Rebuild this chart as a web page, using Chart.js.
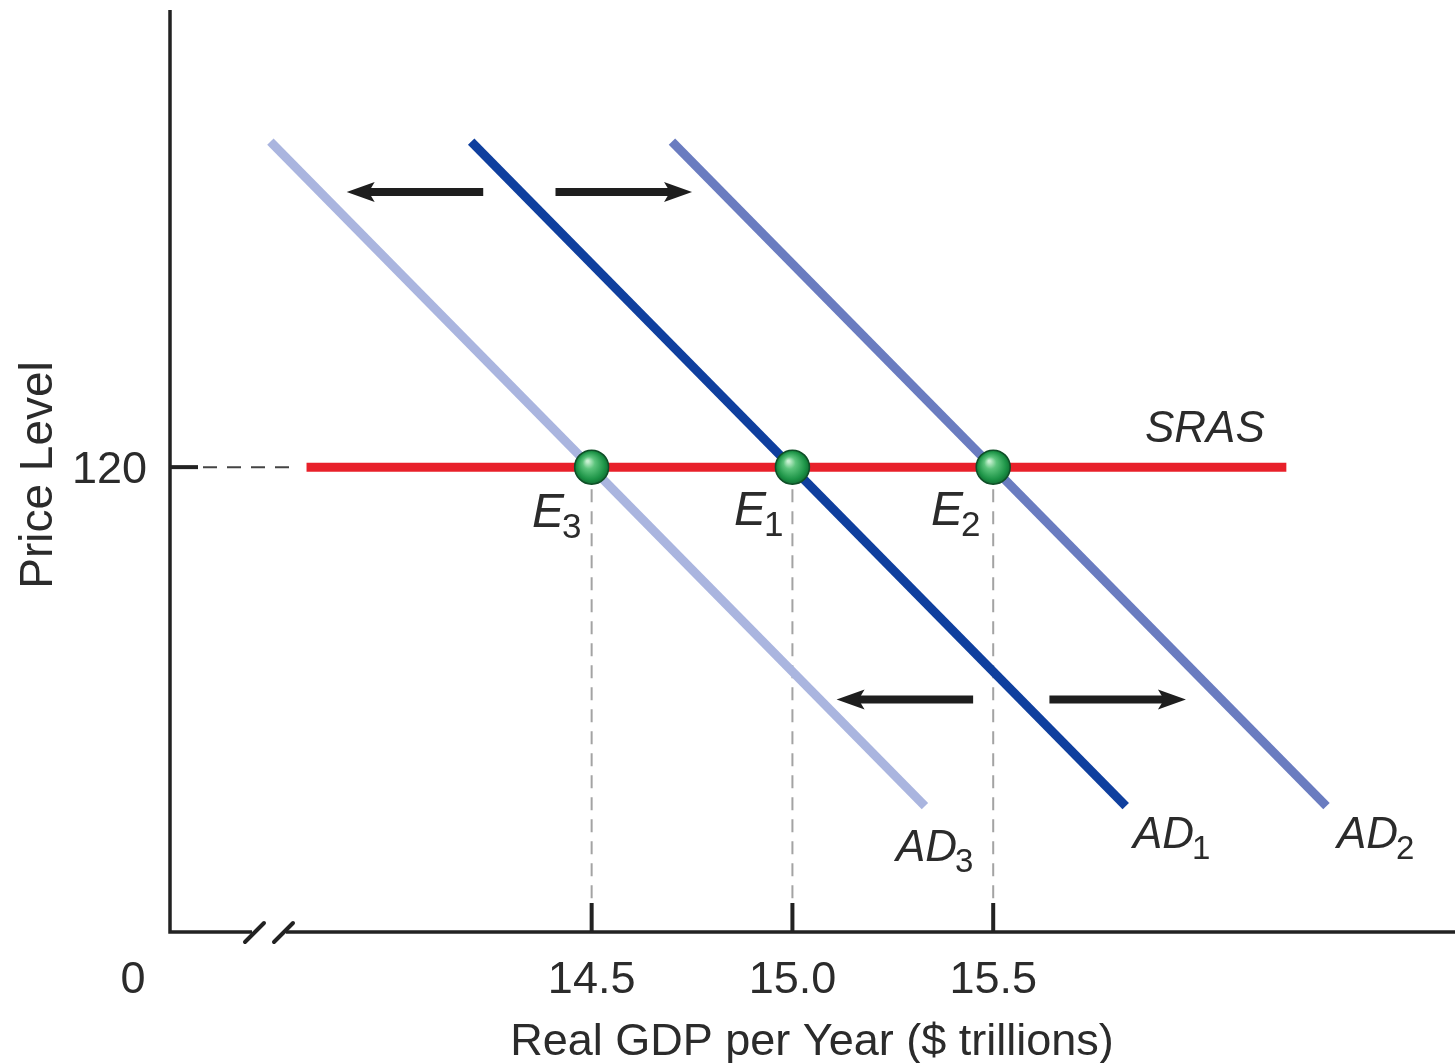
<!DOCTYPE html>
<html>
<head>
<meta charset="utf-8">
<title>Aggregate Demand Shifts</title>
<script src="https://cdn.jsdelivr.net/npm/chart.js@4.4.1/dist/chart.umd.min.js"></script>
<style>
  html, body { margin: 0; padding: 0; background: #ffffff; }
  #wrap { width: 1455px; height: 1063px; position: relative; }
</style>
</head>
<body>
<div id="wrap"><canvas id="chart"></canvas></div>
<script>
// Real GDP ($ trillions) and price level values
const xTicks = [14.5, 15.0, 15.5];
const xTickLabels = ['14.5', '15.0', '15.5'];
const yTicks = [120];
const yTickLabels = ['120'];

// Aggregate demand curves (endpoints)
const ad1 = [{ x: 14.20, y: 204 }, { x: 15.83, y: 32.5 }];
const ad2 = [{ x: 14.70, y: 204 }, { x: 16.33, y: 32.5 }];
const ad3 = [{ x: 13.70, y: 204 }, { x: 15.33, y: 32.5 }];

// Short-run aggregate supply (horizontal at price level 120)
const sras = [{ x: 13.79, y: 120 }, { x: 16.23, y: 120 }];

// Equilibrium points E3, E1, E2
const eqNames = ['E3', 'E1', 'E2'];
const eqGdp = [14.5, 15.0, 15.5];
const eqPrice = [120, 120, 120];

// Shift arrows: start GDP, end GDP, price level
const arrowFrom = [14.23, 14.41, 15.45, 15.64];
const arrowTo = [13.89, 14.75, 15.11, 15.98];
const arrowPrice = [191, 191, 60, 60];

const eqPoints = eqGdp.map((g, i) => ({ x: g, y: eqPrice[i] }));
const dropLines = eqGdp.map((g, i) => [{ x: g, y: eqPrice[i] }, { x: g, y: 0 }]);

const FONT = '"Liberation Sans", Arial, Helvetica, sans-serif';
const TEXT = '#2b2b2b';

function sphereFill(ctx) {
  const chart = ctx.chart;
  if (!chart.chartArea || !ctx.raw) return '#2e9c55';
  const px = chart.scales.x.getPixelForValue(ctx.raw.x);
  const py = chart.scales.y.getPixelForValue(ctx.raw.y);
  const g = chart.ctx.createRadialGradient(px - 4, py - 6, 1, px, py, 18);
  g.addColorStop(0, '#c9f0d2');
  g.addColorStop(0.3, '#5cc47c');
  g.addColorStop(0.75, '#1d9447');
  g.addColorStop(1, '#0e6a2f');
  return g;
}

function drawArrow(c, x1, x2, y) {
  const dir = Math.sign(x2 - x1);
  const headLen = 28, headHalf = 10, notch = 6;
  c.save();
  c.fillStyle = '#1e1e1e';
  c.strokeStyle = '#1e1e1e';
  c.lineWidth = 8;
  c.lineCap = 'butt';
  c.beginPath();
  c.moveTo(x1, y);
  c.lineTo(x2 - dir * (headLen - notch - 2), y);
  c.stroke();
  c.beginPath();
  c.moveTo(x2, y);
  c.lineTo(x2 - dir * headLen, y - headHalf);
  c.lineTo(x2 - dir * (headLen - notch), y);
  c.lineTo(x2 - dir * headLen, y + headHalf);
  c.closePath();
  c.fill();
  c.restore();
}

function drawSubLabel(c, main, sub, x, y, size, subSize, subDrop) {
  c.save();
  c.fillStyle = TEXT;
  c.textBaseline = 'alphabetic';
  c.textAlign = 'left';
  c.font = 'italic ' + size + 'px ' + FONT;
  c.fillText(main, x, y);
  const w = c.measureText(main).width;
  c.font = subSize + 'px ' + FONT;
  c.fillText(sub, x + w - 2, y + subDrop);
  c.restore();
}

const diagramPlugin = {
  id: 'diagram',
  beforeDatasetsDraw(chart) {
    const c = chart.ctx;
    const xs = chart.scales.x, ys = chart.scales.y;
    const a = chart.chartArea;
    // dashed guide from the price axis to the SRAS line
    c.save();
    c.strokeStyle = '#444';
    c.lineWidth = 2;
    c.setLineDash([14, 10]);
    yTicks.forEach(v => {
      const py = ys.getPixelForValue(v);
      c.beginPath();
      c.moveTo(a.left + 33, py);
      c.lineTo(xs.getPixelForValue(sras[0].x) - 8, py);
      c.stroke();
    });
    c.restore();
  },
  afterDatasetsDraw(chart) {
    const c = chart.ctx;
    const xs = chart.scales.x, ys = chart.scales.y;
    const a = chart.chartArea;

    // shift arrows
    arrowFrom.forEach((f, i) => {
      drawArrow(c, xs.getPixelForValue(f), xs.getPixelForValue(arrowTo[i]), ys.getPixelForValue(arrowPrice[i]));
    });

    // axes
    c.save();
    c.strokeStyle = '#222';
    c.lineWidth = 3.5;
    c.lineCap = 'butt';
    c.beginPath();
    c.moveTo(a.left, a.top);
    c.lineTo(a.left, a.bottom);
    c.lineTo(a.left + 82, a.bottom);
    c.moveTo(a.left + 116, a.bottom);
    c.lineTo(a.right, a.bottom);
    c.stroke();
    // axis break marks
    c.lineWidth = 4;
    c.lineCap = 'round';
    c.beginPath();
    c.moveTo(a.left + 75, a.bottom + 10);
    c.lineTo(a.left + 94, a.bottom - 9);
    c.moveTo(a.left + 104, a.bottom + 10);
    c.lineTo(a.left + 123, a.bottom - 9);
    c.stroke();
    c.lineCap = 'butt';
    // tick marks
    c.lineWidth = 4;
    xTicks.forEach(v => {
      const px = xs.getPixelForValue(v);
      c.beginPath();
      c.moveTo(px, a.bottom);
      c.lineTo(px, a.bottom - 29);
      c.stroke();
    });
    yTicks.forEach(v => {
      const py = ys.getPixelForValue(v);
      c.beginPath();
      c.moveTo(a.left, py);
      c.lineTo(a.left + 28, py);
      c.stroke();
    });
    c.restore();

    // tick labels and axis titles
    c.save();
    c.fillStyle = TEXT;
    c.textBaseline = 'alphabetic';
    c.font = '45px ' + FONT;
    c.textAlign = 'center';
    xTicks.forEach((v, i) => {
      c.fillText(xTickLabels[i], xs.getPixelForValue(v), 993);
    });
    c.fillText('0', 133, 993);
    c.textAlign = 'right';
    yTicks.forEach((v, i) => {
      c.fillText(yTickLabels[i], a.left - 23, ys.getPixelForValue(v) + 16);
    });
    c.textAlign = 'center';
    c.fillText('Real GDP per Year ($ trillions)', 812, 1055);
    c.font = '46px ' + FONT;
    c.translate(52, 475);
    c.rotate(-Math.PI / 2);
    c.fillText('Price Level', 0, 0);
    c.restore();

    // curve labels
    c.save();
    c.fillStyle = TEXT;
    c.font = 'italic 44px ' + FONT;
    c.textAlign = 'left';
    c.fillText('SRAS', 1145, 442);
    c.restore();
    drawSubLabel(c, 'AD', '3', 896, 861, 44, 33, 11);
    drawSubLabel(c, 'AD', '1', 1133, 848, 44, 33, 11);
    drawSubLabel(c, 'AD', '2', 1337, 848, 44, 33, 11);
    drawSubLabel(c, 'E', '3', 532, 527, 48, 35, 11);
    drawSubLabel(c, 'E', '1', 734, 525, 48, 35, 11);
    drawSubLabel(c, 'E', '2', 931, 525, 48, 35, 11);
  }
};

const lineDs = (label, data, color, width) => ({
  label, data, showLine: true, borderColor: color, borderWidth: width,
  pointRadius: 0, pointHoverRadius: 0, borderCapStyle: 'butt', fill: false
});

const datasets = [
  {
    label: 'Equilibrium',
    data: eqPoints,
    pointRadius: 17,
    pointHoverRadius: 17,
    pointBackgroundColor: sphereFill,
    pointBorderColor: '#0f4f27',
    pointBorderWidth: 1.5,
    showLine: false
  },
  lineDs('SRAS', sras, '#e8202a', 9),
  lineDs('AD1', ad1, '#0f3f9e', 9),
  lineDs('AD2', ad2, '#6a7cc0', 9),
  lineDs('AD3', ad3, '#aab5df', 9)
];
dropLines.forEach((d, i) => {
  const ds = lineDs('drop ' + eqNames[i], d, '#a3a3a3', 2);
  ds.borderDash = [13, 9];
  datasets.push(ds);
});

new Chart(document.getElementById('chart'), {
  type: 'scatter',
  data: { datasets },
  options: {
    responsive: true,
    maintainAspectRatio: false,
    animation: false,
    layout: { autoPadding: false, padding: { left: 170, top: 10, right: 0, bottom: 131 } },
    scales: {
      x: { type: 'linear', min: 13.45, max: 16.65, display: false },
      y: { type: 'linear', min: 0, max: 238, display: false }
    },
    plugins: { legend: { display: false }, tooltip: { enabled: false } },
    events: []
  },
  plugins: [diagramPlugin]
});
</script>
</body>
</html>
